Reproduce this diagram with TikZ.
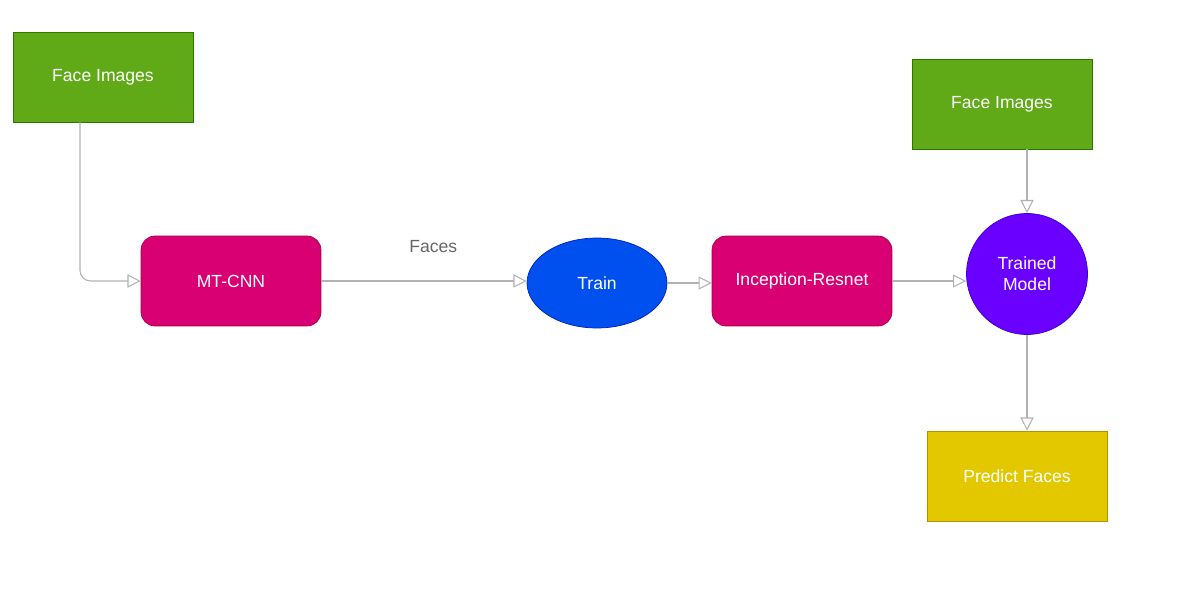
\documentclass[tikz,border=0pt]{standalone}
\usepackage{fontspec}
\setmainfont{Liberation Sans}
\usetikzlibrary{positioning, arrows.meta, shapes.geometric}

\definecolor{leaf}{HTML}{60A917}
\definecolor{leafline}{HTML}{2D7600}
\definecolor{berry}{HTML}{D80073}
\definecolor{berryline}{HTML}{A50040}
\definecolor{sky}{HTML}{0050EF}
\definecolor{skyline}{HTML}{001DBC}
\definecolor{violet}{HTML}{6A00FF}
\definecolor{violetline}{HTML}{3700CC}
\definecolor{mustard}{HTML}{E3C800}
\definecolor{mustardline}{HTML}{B09500}

\tikzset{
	box/.style={rectangle, minimum width=3.6cm, minimum height=1.8cm, text=white, font=\fontsize{10}{12}\selectfont},
	inbox/.style={box, fill=leaf, draw=leafline},
	netbox/.style={box, fill=berry, draw=berryline, rounded corners=8pt},
	outbox/.style={box, fill=mustard, draw=mustardline},
	flow/.style={draw=gray!60, line width=0.6pt, -{Triangle[open, length=7.5pt, width=7.5pt]}}
}

\begin{document}
\begin{tikzpicture}[x=0.02cm, y=-0.02cm]
			\useasboundingbox (0,0) rectangle (1199,601);
			\path node[inbox] (images a) at (103,77) {Face Images};
			\path node[netbox] (mtcnn) at (231,281) {MT-CNN};
			\path node[ellipse, minimum width=2.8cm, minimum height=1.8cm, fill=sky, draw=skyline, text=white, font=\fontsize{10}{12}\selectfont] (train) at (597,283) {Train};
			\path node[netbox] (inception) at (802,281) {Inception-Resnet};
			\path node[circle, minimum size=2.42cm, inner sep=0pt, fill=violet, draw=violetline, text=white, align=center, font=\fontsize{10}{12}\selectfont] (model) at (1027,274) {Trained\\Model};
			\path node[inbox] (images b) at (1002,104) {Face Images};
			\path node[outbox] (predict) at (1017,476) {Predict Faces};
			\draw[flow, rounded corners=6pt] (images a.south -| 80,0) |- (mtcnn.west);
			\draw[flow] (mtcnn.east |- 0,281) -- (train.west |- 0,281);
			\path (mtcnn.east) ++(112,-34) node[text=gray!80!black, font=\fontsize{10}{12}\selectfont] (faces) {Faces};
			\draw[flow] (train.east) -- (inception.west |- train.east);
			\draw[flow] (inception.east) -- (model.west |- inception.east);
			\draw[flow] (images b.south -| model.north) -- (model.north);
			\draw[flow] (model.south) -- (predict.north -| model.south);
		\end{tikzpicture}
\end{document}
